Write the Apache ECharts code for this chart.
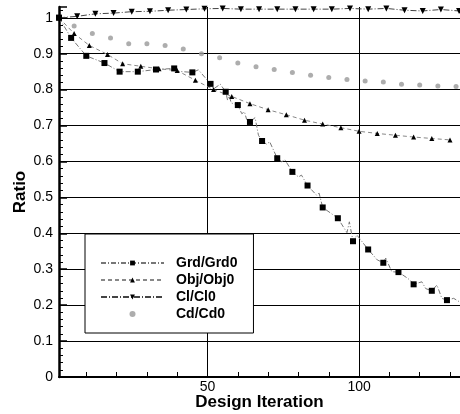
<!DOCTYPE html>
<html>
<head>
<meta charset="utf-8">
<script src="https://cdn.jsdelivr.net/npm/echarts@6/dist/echarts.min.js"></script>
<style>html,body{margin:0;padding:0;background:#fff;}#c{width:460px;height:414px;}</style>
</head>
<body>
<div id="c"></div>
<script>
// ---- data ----
var seriesNames = ['Grd/Grd0', 'Obj/Obj0', 'Cl/Cl0', 'Cd/Cd0'];

// Grd/Grd0: square markers
var grdMarkX = [1, 5, 10, 16, 21, 27, 33, 39, 45, 51, 56, 60, 64, 68, 73, 78, 83, 88, 93, 98, 103, 108, 113, 118, 124, 129];
var grdMarkY = [1.0, 0.944, 0.894, 0.874, 0.850, 0.850, 0.856, 0.859, 0.848, 0.816, 0.794, 0.757, 0.710, 0.657, 0.609, 0.571, 0.533, 0.472, 0.442, 0.378, 0.355, 0.318, 0.292, 0.258, 0.240, 0.214];
// Grd/Grd0: intermediate points of the jagged history line (no marker)
var grdPathX = [40, 47, 52, 54.2, 56.6, 57.2, 57.8, 61.3, 62.2, 62.9, 65.7, 66.8, 69.5, 70.5, 74.5, 75.5, 80, 81, 86, 86.8, 96, 96.8, 99.3, 106, 108.8, 110.8, 116, 117, 120.7, 122, 125.7, 127.3, 131.2, 133.2];
var grdPathY = [0.851, 0.855, 0.802, 0.815, 0.771, 0.782, 0.763, 0.733, 0.738, 0.717, 0.722, 0.673, 0.648, 0.655, 0.599, 0.605, 0.557, 0.562, 0.506, 0.512, 0.402, 0.432, 0.395, 0.326, 0.331, 0.293, 0.275, 0.268, 0.265, 0.246, 0.256, 0.219, 0.219, 0.209];

var objX = [1, 6, 11, 17, 22, 28, 34, 40, 46, 52, 58, 64, 70, 76, 82, 88, 94, 100, 106, 112, 118, 124, 130];
var objY = [1.0, 0.956, 0.923, 0.898, 0.872, 0.865, 0.858, 0.853, 0.826, 0.800, 0.781, 0.761, 0.744, 0.730, 0.715, 0.704, 0.694, 0.684, 0.678, 0.673, 0.668, 0.664, 0.660];

var clX = [1, 7, 13, 19, 25, 31, 37, 43, 49, 55, 61, 67, 73, 79, 85, 91, 97, 103, 109, 115, 121, 127, 133];
var clY = [1.0, 1.004, 1.011, 1.013, 1.017, 1.018, 1.021, 1.023, 1.025, 1.026, 1.024, 1.024, 1.024, 1.024, 1.024, 1.024, 1.026, 1.024, 1.026, 1.021, 1.019, 1.023, 1.019];

var cdX = [6, 12, 18, 24, 30, 36, 42, 48, 54, 60, 66, 72, 78, 84, 90, 96, 102, 108, 114, 120, 126, 132];
var cdY = [0.977, 0.956, 0.944, 0.928, 0.928, 0.923, 0.913, 0.900, 0.889, 0.874, 0.864, 0.856, 0.848, 0.840, 0.834, 0.828, 0.824, 0.821, 0.815, 0.813, 0.810, 0.809];

var xTickLabels = [50, 100];
var xMinorTicks = [10, 20, 30, 40, 50, 60, 70, 80, 90, 100, 110, 120, 130];
var yGridValues = [0.1, 0.2, 0.3, 0.4, 0.5, 0.6, 0.7, 0.8, 0.9, 1.0];
var xGridValues = [50, 100];

// ---- build series data ----
function zip(xs, ys) { return xs.map(function (x, i) { return [x, ys[i]]; }); }
var grdData = [];
grdMarkX.forEach(function (x, i) { grdData.push({ value: [x, grdMarkY[i]] }); });
grdPathX.forEach(function (x, i) { grdData.push({ value: [x, grdPathY[i]], symbol: 'none' }); });
grdData.sort(function (a, b) { return a.value[0] - b.value[0]; });

var FONT = '"Liberation Sans", Arial, sans-serif';
var markLineData = yGridValues.map(function (v) { return { yAxis: v }; })
  .concat(xGridValues.map(function (v) { return { xAxis: v }; }));

var chart = echarts.init(document.getElementById('c'), null, { renderer: 'canvas' });
chart.setOption({
  animation: false,
  backgroundColor: '#fff',
  grid: { left: 59, right: 0, top: 7, bottom: 37, containLabel: false, outerBoundsMode: 'none' },
  xAxis: {
    type: 'value', min: 1, max: 133.3,
    name: 'Design Iteration', nameLocation: 'middle', nameGap: 17, nameMoveOverlap: false,
    nameTextStyle: { fontFamily: FONT, fontWeight: 'bold', fontSize: 17, color: '#000' },
    axisLine: { show: true, onZero: false, lineStyle: { color: '#000', width: 2 } },
    axisTick: { show: true, inside: true, length: 5, customValues: xMinorTicks, lineStyle: { color: '#000', width: 1 } },
    axisLabel: { customValues: xTickLabels, fontFamily: FONT, fontSize: 14, color: '#000', margin: 3 },
    splitLine: { show: false }
  },
  yAxis: {
    type: 'value', min: 0, max: 1.03, interval: 0.1,
    name: 'Ratio', nameLocation: 'middle', nameGap: 30, nameMoveOverlap: false,
    nameTextStyle: { fontFamily: FONT, fontWeight: 'bold', fontSize: 17, color: '#000' },
    axisLine: { show: true, lineStyle: { color: '#000', width: 2.5 } },
    axisTick: { show: true, inside: true, length: 8, lineStyle: { color: '#000', width: 1.5 } },
    minorTick: { show: true, splitNumber: 5, length: 4, lineStyle: { color: '#000', width: 1 } },
    axisLabel: { fontFamily: FONT, fontSize: 14, color: '#000', margin: 6, showMaxLabel: false,
      formatter: function (v) { return Math.abs(v - 1.03) < 1e-6 ? '' : String(Math.round(v * 10) / 10); } },
    splitLine: { show: false }
  },
  legend: {
    show: true, orient: 'vertical', left: 85, top: 234, z: 10,
    data: seriesNames,
    backgroundColor: '#fff', borderColor: '#000', borderWidth: 1, borderRadius: 0,
    padding: [22, 16, 12, 15],
    itemWidth: 63, itemHeight: 6, itemGap: 3,
    textStyle: { fontFamily: FONT, fontWeight: 'bold', fontSize: 14, color: '#000', padding: [0, 0, 0, 7] }
  },
  series: [
    {
      name: 'Grd/Grd0', type: 'line', data: grdData, showAllSymbol: true,
      symbol: 'rect', symbolSize: 6, itemStyle: { color: '#000' },
      lineStyle: { color: '#777', width: 1, type: [5, 2, 1, 2] }, z: 3
    },
    {
      name: 'Obj/Obj0', type: 'line', data: zip(objX, objY), showAllSymbol: true,
      symbol: 'triangle', symbolSize: 5, itemStyle: { color: '#000' },
      lineStyle: { color: '#888', width: 1, type: [4, 3] }, z: 3
    },
    {
      name: 'Cl/Cl0', type: 'line', data: zip(clX, clY), showAllSymbol: true,
      symbol: 'triangle', symbolRotate: 180, symbolSize: 6, itemStyle: { color: '#000' },
      lineStyle: { color: '#444', width: 1, type: [6, 2, 1, 2] }, z: 3
    },
    {
      name: 'Cd/Cd0', type: 'scatter', data: zip(cdX, cdY),
      symbol: 'circle', symbolSize: 5, itemStyle: { color: '#999' }, z: 3,
      markLine: {
        silent: true, symbol: ['none', 'none'], label: { show: false },
        lineStyle: { color: '#000', width: 1, type: 'solid' },
        emphasis: { disabled: true },
        data: markLineData, z: 1
      }
    }
  ]
});
</script>
</body>
</html>
